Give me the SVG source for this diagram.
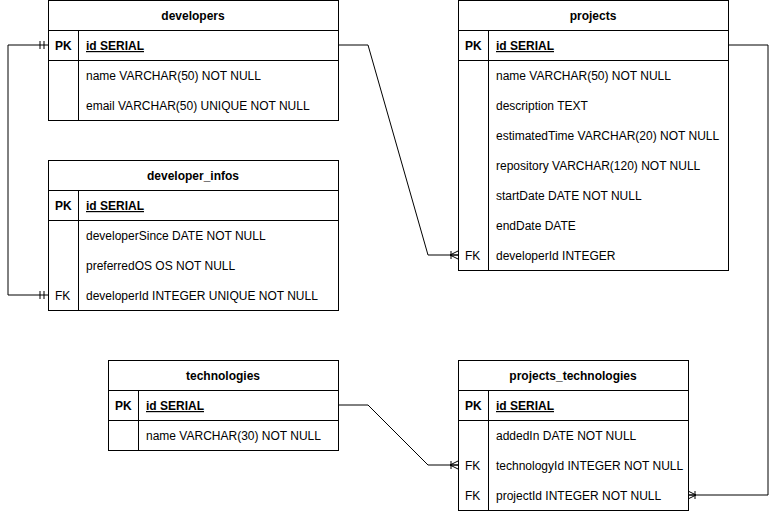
<svg xmlns="http://www.w3.org/2000/svg" width="778" height="511" viewBox="0 0 778 511">
<style>
.box{fill:#fff;stroke:#000;stroke-width:1}
.ln{stroke:#000;stroke-width:1;fill:none}
text{font-family:"Liberation Sans",Arial,sans-serif;font-size:12px;fill:#000}
.h{font-weight:bold;text-anchor:middle}
.b{font-weight:bold}
.u{font-weight:bold;text-decoration:underline}
.c{fill:none;stroke:#000;stroke-width:1}
</style>
<defs>
<marker id="one" markerUnits="userSpaceOnUse" viewBox="0 0 12 12" refX="12" refY="6" markerWidth="12" markerHeight="12" orient="auto-start-reverse">
<path d="M4,2V10M8,2V10" stroke="#000" fill="none"/>
</marker>
<marker id="many" markerUnits="userSpaceOnUse" viewBox="0 0 12 12" refX="12" refY="6" markerWidth="12" markerHeight="12" orient="auto">
<path d="M5,2V10M4,6L12,2M4,6H12M4,6L12,10" stroke="#000" fill="none"/>
</marker>
</defs>
<rect width="778" height="511" fill="#fff"/>
<g id="connectors">
<path class="c" d="M48,45H8V295H48" marker-start="url(#one)" marker-end="url(#one)"/>
<path class="c" d="M338,45H368L428,255H458" marker-end="url(#many)"/>
<path class="c" d="M338,405H368L428,465H458" marker-end="url(#many)"/>
<path class="c" d="M728,45H768V495H688" marker-end="url(#many)"/>
</g>
<g id="developers">
<rect class="box" x="48.5" y="0.5" width="290" height="120"/>
<path class="ln" d="M48.5,30.5H338.5M48.5,60.5H338.5M78.5,30.5V120.5"/>
<text class="h" x="193" y="20">developers</text>
<text class="b" x="55" y="50">PK</text>
<text class="u" x="86" y="50">id SERIAL</text>
<text x="86" y="80">name VARCHAR(50) NOT NULL</text>
<text x="86" y="110">email VARCHAR(50) UNIQUE NOT NULL</text>
</g>
<g id="developer_infos">
<rect class="box" x="48.5" y="160.5" width="290" height="150"/>
<path class="ln" d="M48.5,190.5H338.5M48.5,220.5H338.5M78.5,190.5V310.5"/>
<text class="h" x="193" y="180">developer_infos</text>
<text class="b" x="55" y="210">PK</text>
<text class="u" x="86" y="210">id SERIAL</text>
<text x="86" y="240">developerSince DATE NOT NULL</text>
<text x="86" y="270">preferredOS OS NOT NULL</text>
<text x="55" y="300">FK</text>
<text x="86" y="300">developerId INTEGER UNIQUE NOT NULL</text>
</g>
<g id="projects">
<rect class="box" x="458.5" y="0.5" width="270" height="270"/>
<path class="ln" d="M458.5,30.5H728.5M458.5,60.5H728.5M488.5,30.5V270.5"/>
<text class="h" x="593" y="20">projects</text>
<text class="b" x="465" y="50">PK</text>
<text class="u" x="496" y="50">id SERIAL</text>
<text x="496" y="80">name VARCHAR(50) NOT NULL</text>
<text x="496" y="110">description TEXT</text>
<text x="496" y="140">estimatedTime VARCHAR(20) NOT NULL</text>
<text x="496" y="170">repository VARCHAR(120) NOT NULL</text>
<text x="496" y="200">startDate DATE NOT NULL</text>
<text x="496" y="230">endDate DATE</text>
<text x="465" y="260">FK</text>
<text x="496" y="260">developerId INTEGER</text>
</g>
<g id="technologies">
<rect class="box" x="108.5" y="360.5" width="230" height="90"/>
<path class="ln" d="M108.5,390.5H338.5M108.5,420.5H338.5M138.5,390.5V450.5"/>
<text class="h" x="223" y="380">technologies</text>
<text class="b" x="115" y="410">PK</text>
<text class="u" x="146" y="410">id SERIAL</text>
<text x="146" y="440">name VARCHAR(30) NOT NULL</text>
</g>
<g id="projects_technologies">
<rect class="box" x="458.5" y="360.5" width="230" height="150"/>
<path class="ln" d="M458.5,390.5H688.5M458.5,420.5H688.5M488.5,390.5V510.5"/>
<text class="h" x="573" y="380">projects_technologies</text>
<text class="b" x="465" y="410">PK</text>
<text class="u" x="496" y="410">id SERIAL</text>
<text x="496" y="440">addedIn DATE NOT NULL</text>
<text x="465" y="470">FK</text>
<text x="496" y="470">technologyId INTEGER NOT NULL</text>
<text x="465" y="500">FK</text>
<text x="496" y="500">projectId INTEGER NOT NULL</text>
</g>
</svg>
